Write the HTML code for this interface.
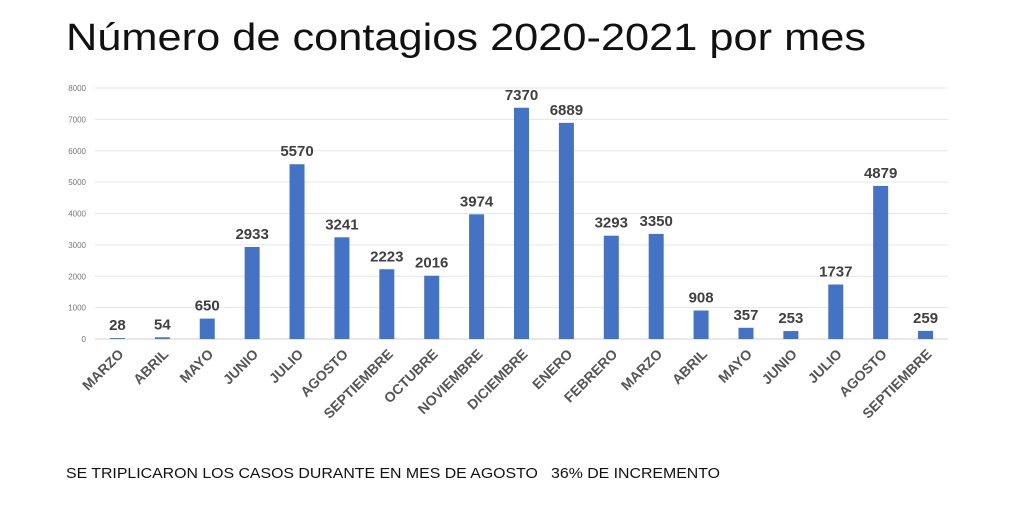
<!DOCTYPE html>
<html><head><meta charset="utf-8"><style>
body{margin:0;background:#fff;width:1024px;height:512px;overflow:hidden;font-family:"Liberation Sans",sans-serif}
</style></head><body>
<svg width="1024" height="512">
<text x="66" y="50" font-size="38" fill="#111" textLength="800" lengthAdjust="spacingAndGlyphs" font-family="Liberation Sans,sans-serif">Número de contagios 2020-2021 por mes</text>
<g id="grid"></g><g id="bars"></g>
<text x="66" y="478" font-size="15" fill="#111" textLength="654" lengthAdjust="spacingAndGlyphs">SE TRIPLICARON LOS CASOS DURANTE EN MES DE AGOSTO &#160; 36% DE INCREMENTO</text>
</svg>
<script>
const categories=["MARZO","ABRIL","MAYO","JUNIO","JULIO","AGOSTO","SEPTIEMBRE","OCTUBRE","NOVIEMBRE","DICIEMBRE","ENERO","FEBRERO","MARZO","ABRIL","MAYO","JUNIO","JULIO","AGOSTO","SEPTIEMBRE"];
const values=[28,54,650,2933,5570,3241,2223,2016,3974,7370,6889,3293,3350,908,357,253,1737,4879,259];
const yTicks=[0,1000,2000,3000,4000,5000,6000,7000,8000];
const NS="http://www.w3.org/2000/svg";
const y0=339,yTop=88,yMax=8000,x0=95,x1=948;
const y=v=>y0-(v/yMax)*(y0-yTop);
const step=(x1-x0)/categories.length;
const x=i=>x0+step*(i+0.5);
function mk(t,a,p){const e=document.createElementNS(NS,t);for(const k in a)e.setAttribute(k,a[k]);p.appendChild(e);return e;}
const grid=document.getElementById('grid'),bars=document.getElementById('bars');
yTicks.forEach(t=>{
 const l=mk('line',{x1:x0,x2:x1,y1:y(t),y2:y(t),stroke:t?'#e6e6e6':'#d0d0d0','stroke-width':1},grid);
 
 
 const tx=mk('text',{x:86,y:y(t)+3,'font-size':8,fill:'#777','text-anchor':'end'},grid);
 tx.textContent=t;
 
 
});
values.forEach((v,i)=>{
 const r=mk('rect',{x:x(i)-7.5,y:y(v),width:15,height:y0-y(v),fill:'#4472c4'},bars);
 
 
 const t=mk('text',{x:x(i),y:y(v)-8,'font-size':15,'font-weight':'bold',fill:'#404040','text-anchor':'middle'},bars);
 t.textContent=v;
 
 
 const c=mk('text',{x:0,y:0,'font-size':14,'font-weight':'bold',fill:'#555','text-anchor':'end',transform:`translate(${x(i)+7},${y0+16}) rotate(-45)`},bars);
 c.textContent=categories[i];
 
 
});
</script>
</body></html>
